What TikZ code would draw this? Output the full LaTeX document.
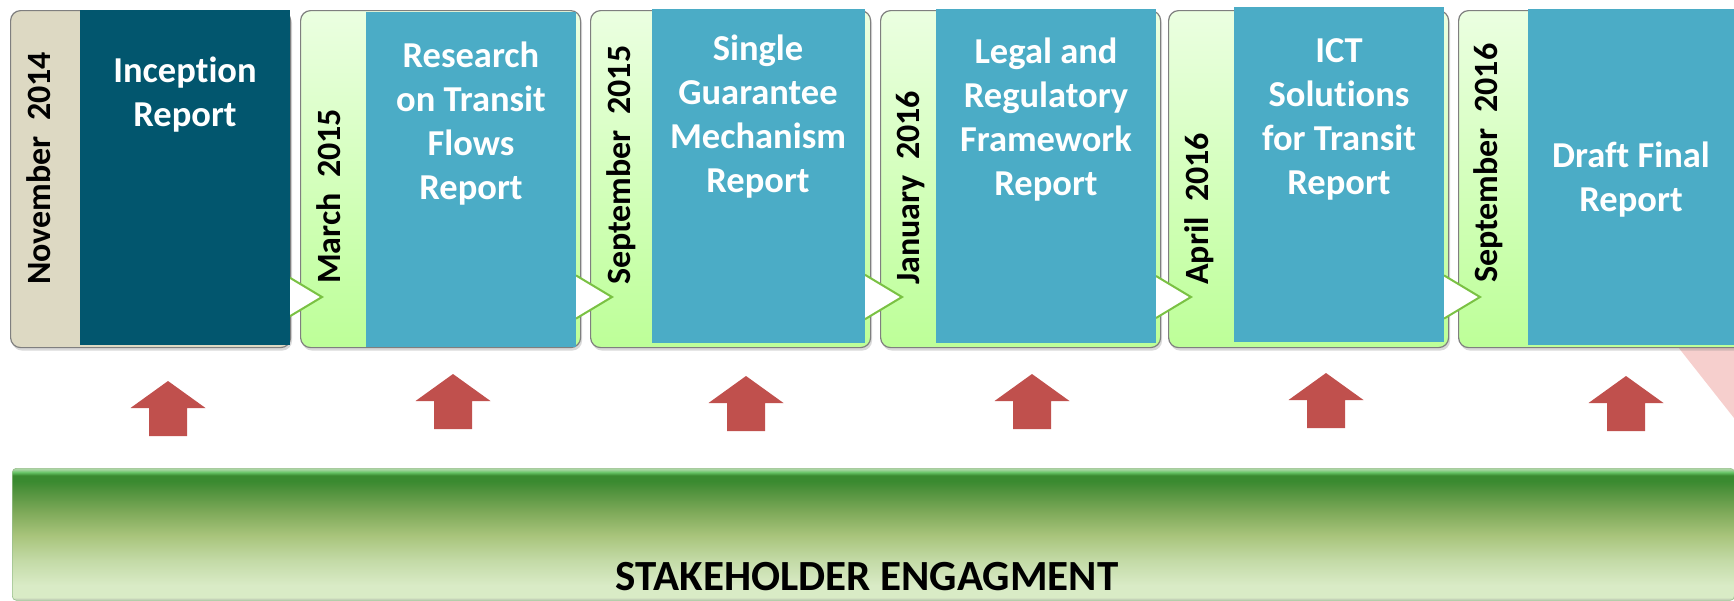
\documentclass[tikz,border=0pt]{standalone}
\usepackage{fontspec}
\setmainfont{Carlito}[Ligatures=NoCommon]
\usetikzlibrary{shadows}

\definecolor{datetan}{HTML}{DDD9C3}
\definecolor{inceptblue}{HTML}{02566E}
\definecolor{reportblue}{HTML}{4BACC6}
\definecolor{striptop}{HTML}{EBFFE1}
\definecolor{stripbottom}{HTML}{BDFF98}
\definecolor{chevgreen}{HTML}{7AC143}
\definecolor{liftred}{HTML}{C0504D}
\definecolor{boxgray}{HTML}{7F7F7F}
\definecolor{watermark}{HTML}{F6CFCD}
% bar colours, bottom to top
\definecolor{barA}{HTML}{B5BFAE}
\definecolor{barB}{HTML}{D9EBC6}
\definecolor{barC}{HTML}{C3DAA6}
\definecolor{barD}{HTML}{A8C47B}
\definecolor{barE}{HTML}{7FAA5A}
\definecolor{barF}{HTML}{54943F}
\definecolor{barG}{HTML}{3A8A30}
\definecolor{barH}{HTML}{66C466}
\definecolor{barI}{HTML}{A9D5A3}

\pgfdeclareverticalshading{barshade}{100bp}{%
  color(0bp)=(barA); color(25bp)=(barA); color(26.1bp)=(barB);
  color(30.7bp)=(barB); color(40.2bp)=(barC); color(49.6bp)=(barD);
  color(58.3bp)=(barE); color(65.9bp)=(barF); color(70.1bp)=(barG);
  color(72.3bp)=(barG); color(73.5bp)=(barH); color(74.6bp)=(barI);
  color(75bp)=(barI); color(100bp)=(barI)}

\begin{document}
\begin{tikzpicture}[x=1pt, y=-1pt,
    box/.style={rectangle, rounded corners=10pt, draw=boxgray, line width=1.2pt,
      minimum width=280pt, minimum height=337pt, anchor=north west, inner sep=0pt,
      drop shadow={opacity=0.3, shadow xshift=1.5pt, shadow yshift=-3pt}},
    greenbox/.style={box, top color=striptop, bottom color=stripbottom},
    panel/.style={rectangle, anchor=north west, inner sep=0pt, fill=reportblue},
    title/.style={anchor=north, align=center, text=white, inner sep=0pt,
      font=\fontsize{36.5}{44}\selectfont\bfseries},
    date/.style={rotate=90, anchor=base west, inner sep=0pt,
      font=\fontsize{34}{40}\selectfont\bfseries}]
	\useasboundingbox (0,0) rectangle (1734,600);
	\fill[watermark] (1678,347) -- (1734,347) -- (1734,418) -- cycle;

	% milestone boxes
	\node[box, fill=datetan] (b1) at (10,10) {};
	\node[greenbox] (b2) at (300,10) {};
	\node[greenbox] (b3) at (590,10) {};
	\node[greenbox] (b4) at (880,10) {};
	\node[greenbox] (b5) at (1168,10) {};
	\node[greenbox, minimum width=292pt] (b6) at (1458,10) {};

	\foreach \bx/\tx in {290/322, 576/612, 865/902, 1156/1191, 1444/1480}
		\draw[chevgreen, line width=2pt, fill=white] (\bx,{297-0.6*(\tx-\bx)}) -- (\tx,297) -- (\bx,{297+0.6*(\tx-\bx)});

	\node[panel, fill=inceptblue, minimum width=210pt, minimum height=335pt] (p1) at (80,10) {};
	\node[panel, minimum width=210pt, minimum height=335pt] (p2) at (366,12) {};
	\node[panel, minimum width=213pt, minimum height=334pt] (p3) at (652,9) {};
	\node[panel, minimum width=220pt, minimum height=334pt] (p4) at (936,9) {};
	\node[panel, minimum width=210pt, minimum height=335pt] (p5) at (1234,7) {};
	\node[panel, minimum width=206pt, minimum height=336pt] (p6) at (1528,9) {};

	\node[date] (d1) at (50,285) {November~~2014};
	\node[date] (d2) at (340,284) {March~~2015};
	\node[date] (d3) at (630,285) {September~~2015};
	\node[date] (d4) at (919,285) {January~~2016};
	\node[date] (d5) at (1208,285) {April~~2016};
	\node[date] (d6) at (1497,283) {September~~2016};

	\node[title] (t1) at (185,51) {\strut Inception\\Report};
	\node[title] (t2) at (471,36) {\strut Research\\on Transit\\Flows\\Report};
	\node[title] (t3) at (758,29) {\strut Single\\Guarantee\\Mechanism\\Report};
	\node[title] (t4) at (1046,32) {\strut Legal and\\Regulatory\\Framework\\Report};
	\node[title] (t5) at (1339,31) {\strut ICT\\Solutions\\for Transit\\Report};
	\node[title] (t6) at (1631,136) {\strut Draft Final\\Report};

	% lift arrows
	\foreach \ax/\ay in {168/381, 453/374, 746/376, 1032/374, 1326/373, 1626/376}
		\fill[liftred] (\ax,\ay) -- ++(37.5,27) -- ++(-18.5,0) -- ++(0,28) -- ++(-38,0) -- ++(0,-28) -- ++(-18.5,0) -- cycle;

	\node[rectangle, anchor=north west, rounded corners=4pt, minimum width=1722pt, minimum height=132pt,
		inner sep=0pt, shade, shading=barshade, draw=barF!60, line width=0.6pt] (bar) at (12,468) {};
	\node[font=\fontsize{43}{50}\selectfont\bfseries, inner sep=0pt] (engage) at (867,577) {STAKEHOLDER ENGAGMENT};
\end{tikzpicture}
\end{document}
